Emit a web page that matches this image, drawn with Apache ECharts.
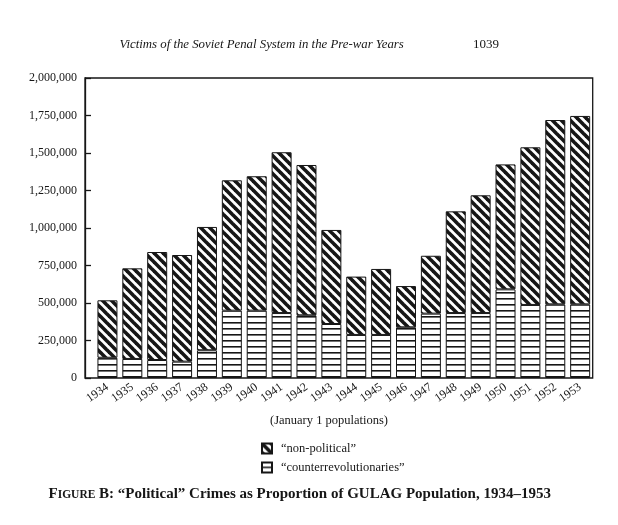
<!DOCTYPE html>
<html><head><meta charset="utf-8">
<script src="https://cdn.jsdelivr.net/npm/echarts@6/dist/echarts.min.js"></script>
<style>html,body{margin:0;padding:0;background:#fff}#c{width:618px;height:525px}</style>
</head><body><div id="c"></div>
<script>
const years = ['1934','1935','1936','1937','1938','1939','1940','1941','1942','1943',
               '1944','1945','1946','1947','1948','1949','1950','1951','1952','1953'];
const totalPopulation = [518000, 731000, 840000, 820000, 1007000, 1318000, 1345000, 1505000, 1420000, 987000,
                         676000, 727000, 613000, 815000, 1111000, 1218000, 1424000, 1538000, 1720000, 1747000];
const counterrevolutionaries = [135000, 127000, 120000, 109000, 185000, 449000, 449000, 433000, 418000, 360000,
                                287000, 287000, 338000, 429000, 433000, 433000, 591000, 487000, 491000, 491000];
const nonPolitical = totalPopulation.map((t, i) => t - counterrevolutionaries[i]);
const yMin = 0, yMax = 2000000, yStep = 250000;

const SERIF = '"Liberation Serif", "DejaVu Serif", serif';
const INK = '#161616';

function diagPattern() {
  const s = 9;
  const c = document.createElement('canvas');
  c.width = s; c.height = s;
  const g = c.getContext('2d');
  g.fillStyle = '#fff'; g.fillRect(0, 0, s, s);
  g.strokeStyle = INK; g.lineWidth = 3.6;
  for (const o of [-2 * s, -s, 0, s, 2 * s]) {
    g.beginPath(); g.moveTo(o - s, -s); g.lineTo(o + 2 * s, 2 * s); g.stroke();
  }
  return c;
}
function hPattern() {
  const c = document.createElement('canvas');
  c.width = 6; c.height = 6;
  const g = c.getContext('2d');
  g.fillStyle = '#fff'; g.fillRect(0, 0, 6, 6);
  g.fillStyle = INK; g.fillRect(0, 4, 6, 1.6);
  return c;
}

const chart = echarts.init(document.getElementById('c'), null, {renderer: 'canvas'});
chart.setOption({
  animation: false,
  backgroundColor: '#fff',
  grid: [
    {left: 85, right: 25.3, top: 78, bottom: 147, show: true, borderColor: INK, borderWidth: 1.3, backgroundColor: 'transparent'},
    {left: 95, right: 25.4, top: 78, bottom: 147}
  ],
  xAxis: [
    {gridIndex: 0, type: 'value', show: false},
    {gridIndex: 1, type: 'category', data: years,
     axisLine: {show: false}, axisTick: {show: false},
     axisLabel: {rotate: 35, margin: 8, interval: 0, fontFamily: SERIF, fontSize: 12, color: INK}}
  ],
  yAxis: [
    {gridIndex: 0, type: 'value', min: yMin, max: yMax, interval: yStep,
     axisLine: {show: true, lineStyle: {color: INK, width: 1.3}},
     axisTick: {show: true, inside: true, length: 6, lineStyle: {color: INK, width: 1.3}},
     splitLine: {show: false},
     axisLabel: {margin: 8, fontFamily: SERIF, fontSize: 12, color: INK,
       formatter: v => v.toLocaleString('en-US')}},
    {gridIndex: 1, type: 'value', min: yMin, max: yMax, interval: yStep, show: false, splitLine: {show: false}}
  ],
  legend: {
    orient: 'vertical', left: 256, top: 437, itemWidth: 10, itemHeight: 10, itemGap: 6,
    icon: 'rect',
    data: ['“non-political”', '“counterrevolutionaries”'],
    textStyle: {fontFamily: SERIF, fontSize: 12.5, color: INK, padding: [0, 0, 0, 4]}
  },
  series: [
    {name: '“counterrevolutionaries”', type: 'bar', stack: 'gulag', xAxisIndex: 1, yAxisIndex: 1,
     barWidth: 20, data: counterrevolutionaries,
     itemStyle: {color: {image: hPattern(), repeat: 'repeat'}, borderColor: INK, borderWidth: 1}},
    {name: '“non-political”', type: 'bar', stack: 'gulag', xAxisIndex: 1, yAxisIndex: 1,
     barWidth: 20, data: nonPolitical,
     itemStyle: {color: {image: diagPattern(), repeat: 'repeat'}, borderColor: INK, borderWidth: 1}}
  ],
  graphic: [
    {type: 'text', x: 261.7, y: 45, style: {text: 'Victims of the Soviet Penal System in the Pre-war Years',
      font: 'italic 12.8px ' + SERIF, fill: INK, align: 'center', verticalAlign: 'middle'}},
    {type: 'text', x: 486, y: 45, style: {text: '1039',
      font: '13px ' + SERIF, fill: INK, align: 'center', verticalAlign: 'middle'}},
    {type: 'text', x: 329, y: 421, style: {text: '(January 1 populations)',
      font: '12.5px ' + SERIF, fill: INK, align: 'center', verticalAlign: 'middle'}},
    {type: 'text', x: 299.7, y: 493, style: {
      text: '{a|F}{b|IGURE}{a| B: “Political” Crimes as Proportion of GULAG Population, 1934–1953}',
      align: 'center', verticalAlign: 'middle', fill: INK,
      rich: {
        a: {font: 'bold 15px ' + SERIF, fill: INK, verticalAlign: 'bottom', lineHeight: 17},
        b: {font: 'bold 11.5px ' + SERIF, fill: INK, verticalAlign: 'bottom', lineHeight: 17}
      }}}
  ]
});
</script></body></html>
